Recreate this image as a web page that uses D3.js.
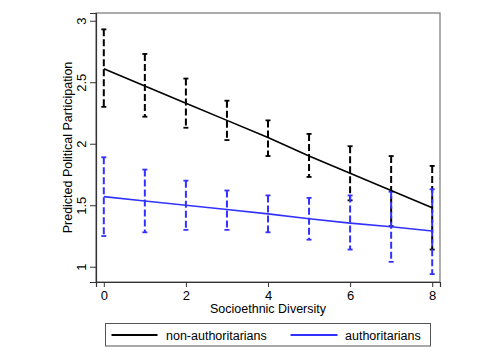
<!DOCTYPE html>
<html><head><meta charset="utf-8">
<script src="https://cdn.jsdelivr.net/npm/d3@7"></script>
<style>body{margin:0;background:#fff}svg{display:block;font-family:"Liberation Sans",Arial,sans-serif}</style>
</head><body><svg id="c" width="500" height="364"></svg>
<script>
const xValues = [0,1,2,3,4,5,6,7,8];
const nonAuthMean = [2.61,2.47,2.33,2.19,2.05,1.90,1.76,1.62,1.48];
const nonAuthLow  = [2.30,2.22,2.13,2.03,1.90,1.73,1.54,1.33,1.14];
const nonAuthHigh = [2.93,2.73,2.53,2.35,2.19,2.08,1.98,1.90,1.82];
const authMean = [1.57,1.535,1.50,1.465,1.43,1.39,1.355,1.325,1.29];
const authLow  = [1.25,1.28,1.30,1.30,1.28,1.22,1.14,1.04,0.94];
const authHigh = [1.89,1.79,1.70,1.62,1.58,1.56,1.58,1.61,1.63];
const xTicks = [0,2,4,6,8];
const yTicks = [1,1.5,2,2.5,3];
const seriesNames = ["non-authoritarians","authoritarians"];
const colors = ["#000000","#3232ff"];

const svg = d3.select("#c");
const L=96,R=440,T=13,B=282;
const x = d3.scaleLinear().domain([-0.19,8.19]).range([L,R]);
const y = d3.scaleLinear().domain([0.876,3.063]).range([B,T]);

// frame
svg.append("rect").attr("x",L).attr("y",T).attr("width",R-L).attr("height",B-T)
  .attr("fill","none").attr("stroke","#777").attr("stroke-width",1.2);

// axes
const xa = svg.append("g").attr("transform",`translate(0,${B})`)
  .call(d3.axisBottom(x).tickValues(xTicks).tickSize(5).tickPadding(4).tickFormat(d3.format("d")));
xa.select(".domain").attr("stroke","#333").attr("stroke-width",1.2);
xa.selectAll(".tick line").attr("stroke","#333");
xa.selectAll("text").attr("font-size",13).attr("fill","#000").attr("font-family","Liberation Sans, Arial, sans-serif");

const ya = svg.append("g").attr("transform",`translate(${L},0)`)
  .call(d3.axisLeft(y).tickValues(yTicks).tickSize(6).tickFormat(d=>String(d)));
ya.select(".domain").attr("stroke","#333").attr("stroke-width",1.2);
ya.selectAll(".tick line").attr("stroke","#333");
ya.selectAll("text").attr("font-size",13).attr("fill","#000")
  .attr("font-family","Liberation Sans, Arial, sans-serif")
  .attr("x",0).attr("dy",0).attr("text-anchor","middle")
  .attr("transform","translate(-10,0) rotate(-90)");

// axis titles
svg.append("text").attr("x",(L+R)/2).attr("y",313).attr("text-anchor","middle")
  .attr("font-size",12.5).text("Socioethnic Diversity");
svg.append("text").attr("transform",`translate(72,${(T+B)/2}) rotate(-90)`)
  .attr("text-anchor","middle").attr("font-size",12.5).text("Predicted Political Participation");

// error bars
const series = [
  {mean:nonAuthMean,low:nonAuthLow,high:nonAuthHigh,color:colors[0]},
  {mean:authMean,low:authLow,high:authHigh,color:colors[1]}
];
series.forEach(s=>{
  const g = svg.append("g");
  xValues.forEach((xv,i)=>{
    g.append("line").attr("x1",x(xv)).attr("x2",x(xv)).attr("y1",y(s.high[i])).attr("y2",y(s.low[i]))
      .attr("stroke",s.color).attr("stroke-width",2).attr("stroke-dasharray","7,3");
    [s.high[i],s.low[i]].forEach(v=>{
      g.append("line").attr("x1",x(xv)-2.5).attr("x2",x(xv)+2.5).attr("y1",y(v)).attr("y2",y(v))
        .attr("stroke",s.color).attr("stroke-width",1.8);
    });
  });
});
series.forEach(s=>{
  svg.append("path").datum(xValues.map((xv,i)=>[xv,s.mean[i]]))
    .attr("d",d3.line().x(d=>x(d[0])).y(d=>y(d[1])))
    .attr("fill","none").attr("stroke",s.color).attr("stroke-width",1.6);
});

// legend
svg.append("rect").attr("x",105.5).attr("y",323.5).attr("width",325).attr("height",22.5)
  .attr("fill","#fff").attr("stroke","#555").attr("stroke-width",1);
const leg = [{x1:111.5,x2:157.5,tx:166},{x1:290.5,x2:337.5,tx:345}];
leg.forEach((l,i)=>{
  svg.append("line").attr("x1",l.x1).attr("x2",l.x2).attr("y1",335).attr("y2",335)
    .attr("stroke",colors[i]).attr("stroke-width",1.8);
  svg.append("text").attr("x",l.tx).attr("y",339.5).attr("font-size",12.5).text(seriesNames[i]);
});
</script></body></html>
